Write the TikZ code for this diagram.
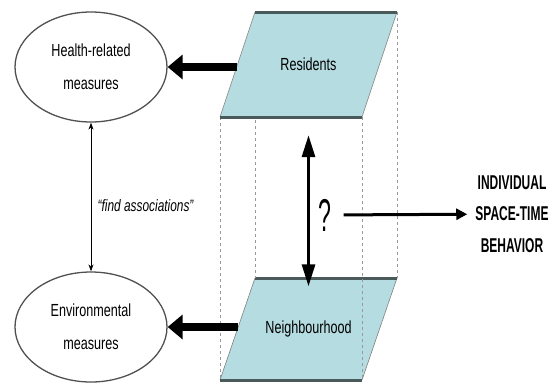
\documentclass[tikz,border=0pt]{standalone}
\usepackage{fontspec}
\setmainfont{Liberation Sans}
\newfontfamily\narrowsf[FakeStretch=0.72]{Liberation Sans}
\newfontfamily\condsf[FakeStretch=0.6]{Liberation Sans}
\usetikzlibrary{arrows.meta,calc,shapes.geometric}
\definecolor{slabfill}{RGB}{181,220,224}
\definecolor{slabedge}{RGB}{74,90,90}
\definecolor{ringgray}{RGB}{80,80,80}
\begin{document}
\begin{tikzpicture}[
        x=1pt, y=-1pt,
        font=\narrowsf\fontsize{17.5}{33}\selectfont
    ]
    \tikzset{
        measure/.style = {ellipse, draw=ringgray, line width=1.3pt, align=center,
                          minimum width=152pt, minimum height=110pt, inner sep=0pt},
        slabtext/.style = {align=center, minimum width=107pt, minimum height=105pt, inner sep=0pt},
        slabside/.style = {draw=gray, line width=0.6pt},
        slabrim/.style = {draw=slabedge, line width=3pt},
        hidden/.style = {draw=gray!80, line width=0.6pt, dash pattern=on 3pt off 3pt},
        fatarrow/.style = {line width=8pt, -{Triangle[length=15pt,width=24pt]}},
        linkarrow/.style = {line width=3pt, {Triangle[length=22pt,width=13pt]}-{Triangle[length=22pt,width=13pt]}},
        outarrow/.style = {line width=3pt, -{Triangle[length=11pt,width=11pt]}},
        assocarrow/.style = {line width=0.8pt, {Stealth[length=7pt,width=5pt]}-{Stealth[length=7pt,width=5pt]}},
    }
        \useasboundingbox (0,0) rectangle (553,383);
        % corners of the two slabs
        \coordinate (rtl) at (255,12);  \coordinate (rtr) at (397,12);
        \coordinate (rbl) at (220,117); \coordinate (rbr) at (362,117);
        \coordinate (ntl) at (255,278); \coordinate (ntr) at (397,278);
        \coordinate (nbl) at (220,380); \coordinate (nbr) at (362,380);
        %
        \fill[slabfill] (nbl) -- (nbr) -- (ntr) -- (ntl) -- cycle;
        \path[slabside] (nbl) -- (ntl) (nbr) -- (ntr);
        \path[slabrim] (nbl) -- (nbr) (ntl) -- (ntr);
        %
        \path[hidden] (rbl) -- (nbl);
        \path[hidden] (rtl) -- (ntl);
        \path[hidden] (rbr) -- (nbr);
        \path[hidden] (rtr) -- (ntr);
        %
        \fill[slabfill] (rbl) -- (rbr) -- (rtr) -- (rtl) -- cycle;
        \path[slabside] (rbl) -- (rtl) (rbr) -- (rtr);
        \path[slabrim] (rbl) -- (rbr) (rtl) -- (rtr);
        %
        \node[slabtext] at (308.5,64.5) (res) {Residents};
        \node[slabtext] at (308.5,329) (nbh) {Neighbourhood};
        \node[measure] at (91,67) (health) {Health-related\\measures};
        \node[measure] at (91,327) (env) {Environmental\\measures};
        \node[font=\narrowsf\fontsize{46}{46}\selectfont, xscale=0.7, inner sep=0pt] at (325,215) (q) {?};
        \node[font=\condsf\bfseries\fontsize{20}{31.5}\selectfont, align=center, inner sep=0pt]
            at (512,214) (beh) {INDIVIDUAL\\SPACE-TIME\\BEHAVIOR};
        \coordinate (resL) at (237,67);
        \coordinate (nbhL) at (238,327);
        %
        \draw[fatarrow] (resL) -- (resL -| health.east);
        \draw[fatarrow] (nbhL) -- (nbhL -| env.east);
        \draw[assocarrow] (health) -- (env)
            node[pos=0.56, right=3pt, font=\narrowsf\itshape\fontsize{16.5}{20}\selectfont] (assoc) {“find associations”};
        \draw[linkarrow, shorten <=18pt, shorten >=-10pt] (res) -- (nbh);
        \draw[outarrow, shorten <=12pt, shorten >=8pt] (q) -- (beh);
    \end{tikzpicture}
\end{document}
